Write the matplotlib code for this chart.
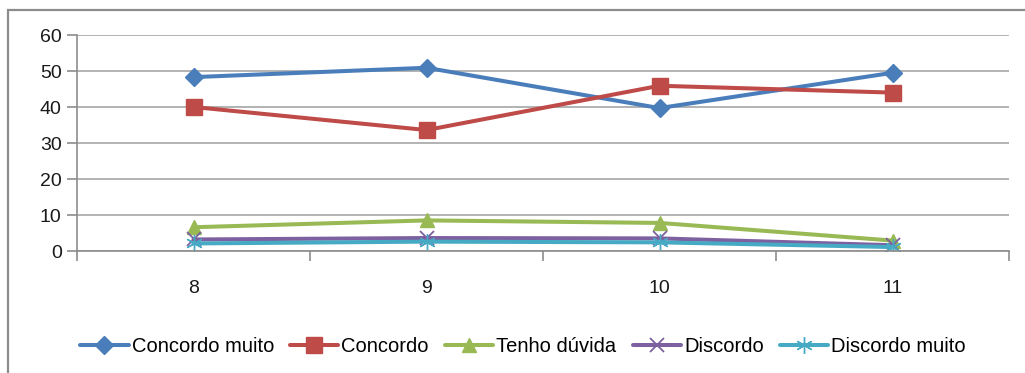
import numpy as np
import matplotlib
matplotlib.use('Agg')
import matplotlib.pyplot as plt
from matplotlib.patches import Rectangle

categories = ['8', '9', '10', '11']
concordo_muito = [48.3, 50.9, 39.7, 49.5]
concordo = [40.0, 33.6, 45.9, 44.0]
tenho_duvida = [6.6, 8.5, 7.8, 2.9]
discordo = [3.2, 3.6, 3.5, 1.6]
discordo_muito = [2.1, 2.6, 2.4, 1.1]

plt.rcParams['font.family'] = ['Liberation Sans', 'DejaVu Sans']

fig = plt.figure(figsize=(10.25, 3.73), dpi=100)
ax = fig.add_axes([77 / 1025, 1 - 251 / 373, 932 / 1025, 216 / 373])

# outer chart border (only left and top visible)
fig.patches.append(Rectangle((8 / 1025, -0.1), 1.2, 1 - 10 / 373 + 0.1, transform=fig.transFigure,
                             fill=False, edgecolor='#8c8c8c', linewidth=1.6))

x = np.arange(len(categories))
series = [
    ('Concordo muito', concordo_muito, '#4a7ebb', 'D', 9, 1),
    ('Concordo', concordo, '#be4b48', 's', 11.5, 1),
    ('Tenho dúvida', tenho_duvida, '#98b954', '^', 10, 1),
    ('Discordo', discordo, '#7d60a0', 'x', 10, 1.3),
    ('Discordo muito', discordo_muito, '#46aac5', (6, 2, 0), 12, 1.0),
]
for name, vals, col, mk, ms, mew in series:
    ax.plot(x, vals, color=col, lw=2.9, marker=mk, markersize=ms, markeredgewidth=mew,
            markeredgecolor=col, markerfacecolor=col, label=name, solid_capstyle='round')

ax.set_xlim(-0.5, 3.5)
ax.set_ylim(0, 60)
ax.set_yticks(np.arange(0, 61, 10))
ax.grid(axis='y', color='#a6a6a6', lw=1.2)
ax.set_axisbelow(True)

ax.set_xticks([-0.5, 0.5, 1.5, 2.5, 3.5])
ax.set_xticklabels([])
ax.set_xticks(x, minor=True)
ax.set_xticklabels(categories, minor=True)
ax.tick_params(axis='x', which='major', length=7, color='#8c8c8c', width=1.2)
ax.tick_params(axis='x', which='minor', length=0, pad=21, labelsize=14, labelcolor='#1a1a1a')
ax.tick_params(axis='y', length=7, color='#8c8c8c', width=1.2, labelsize=14, pad=4, labelcolor='#1a1a1a')

for s in ['top', 'right']:
    ax.spines[s].set_visible(False)
for s in ['left', 'bottom']:
    ax.spines[s].set_color('#8c8c8c')
    ax.spines[s].set_linewidth(1.2)

fig.legend(loc='center', bbox_to_anchor=(523 / 1025, 1 - 347 / 373), ncol=5, frameon=False,
           fontsize=14.5, handlelength=2.4, handletextpad=0.15, columnspacing=0.8, borderaxespad=0)

fig.savefig('out.png', dpi=100)
